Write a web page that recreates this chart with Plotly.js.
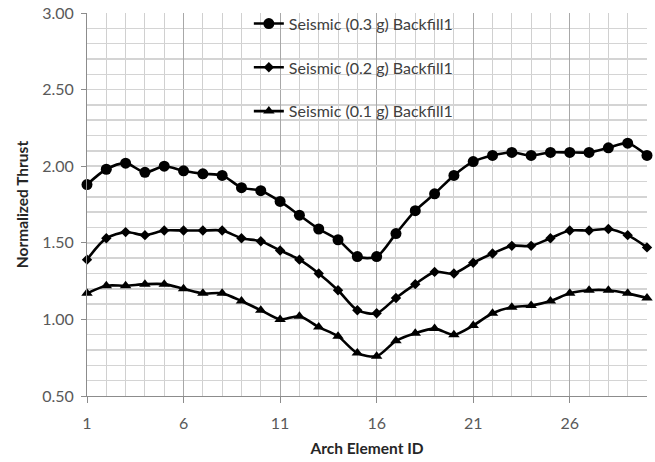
<!DOCTYPE html>
<html>
<head>
<meta charset="utf-8">
<script src="https://cdn.plot.ly/plotly-3.0.1.min.js"></script>
<style>
  html, body { margin: 0; padding: 0; background: #ffffff; }
  #chart { width: 655px; height: 462px; }
</style>
</head>
<body>
<div id="chart"></div>
<script>
// Arch element IDs along the arch
const elementIds = [1, 2, 3, 4, 5, 6, 7, 8, 9, 10, 11, 12, 13, 14, 15,
                    16, 17, 18, 19, 20, 21, 22, 23, 24, 25, 26, 27, 28, 29, 30];

// Normalized thrust per element for each seismic level
const thrust03g = [1.88, 1.98, 2.02, 1.96, 2.00, 1.97, 1.95, 1.94, 1.86, 1.84,
                   1.77, 1.68, 1.59, 1.52, 1.41, 1.41, 1.56, 1.71, 1.82, 1.94,
                   2.03, 2.07, 2.09, 2.07, 2.09, 2.09, 2.09, 2.12, 2.15, 2.07];
const thrust02g = [1.39, 1.53, 1.57, 1.55, 1.58, 1.58, 1.58, 1.58, 1.53, 1.51,
                   1.45, 1.39, 1.30, 1.19, 1.06, 1.04, 1.14, 1.23, 1.31, 1.30,
                   1.37, 1.43, 1.48, 1.48, 1.53, 1.58, 1.58, 1.59, 1.55, 1.47];
const thrust01g = [1.17, 1.22, 1.22, 1.23, 1.23, 1.20, 1.17, 1.17, 1.12, 1.06,
                   1.00, 1.02, 0.95, 0.89, 0.78, 0.76, 0.86, 0.91, 0.94, 0.90,
                   0.96, 1.04, 1.08, 1.09, 1.12, 1.17, 1.19, 1.19, 1.17, 1.14];

const seriesNames = ['Seismic (0.3 g) Backfill1',
                     'Seismic (0.2 g) Backfill1',
                     'Seismic (0.1 g) Backfill1'];

const xTickVals = [1, 6, 11, 16, 21, 26];
const yTickVals = [0.5, 1.0, 1.5, 2.0, 2.5, 3.0];
const yTickText = ['0.50', '1.00', '1.50', '2.00', '2.50', '3.00'];

const FONT = 'Lato, "Open Sans", sans-serif';

function series(y, name, symbol, size, group) {
  return {
    x: elementIds, y: y, name: name,
    type: 'scatter', mode: 'lines+markers',
    legendgroup: group,
    cliponaxis: false,
    line: { color: '#000000', width: 2.6, shape: 'spline', smoothing: 0.8 },
    marker: { symbol: symbol, size: size, color: '#000000' }
  };
}

const traces = [
  series(thrust03g, seriesNames[0], 'circle', 11, 'a'),
  series(thrust02g, seriesNames[1], 'diamond', 8, 'b'),
  series(thrust01g, seriesNames[2], 'triangle-up', 10, 'c')
];

const layout = {
  width: 655, height: 462,
  margin: { l: 87, r: 8, t: 12, b: 66 },
  paper_bgcolor: '#ffffff',
  plot_bgcolor: '#ffffff',
  font: { family: FONT, size: 15, color: '#595959' },
  showlegend: true,
  legend: {
    x: 0.289, y: 1.014, xanchor: 'left', yanchor: 'top',
    bgcolor: 'rgba(0,0,0,0)',
    traceorder: 'grouped',
    tracegroupgap: 20,
    font: { family: FONT, size: 16, color: '#404040' }
  },
  xaxis: {
    range: [1, 30],
    tickmode: 'array', tickvals: xTickVals,
    ticks: 'outside', ticklen: 6, tickcolor: '#8c8c8c',
    ticklabelstandoff: 7,
    showgrid: true, gridcolor: '#a8a8a8', gridwidth: 1,
    minor: { dtick: 1, tick0: 1, showgrid: true, gridcolor: '#d0d0d0', gridwidth: 1 },
    showline: true, linecolor: '#8c8c8c', linewidth: 1,
    zeroline: false,
    tickfont: { family: FONT, size: 16, color: '#595959' },
    title: { text: '<b>Arch Element ID</b>', standoff: 11,
             font: { family: FONT, size: 15.5, color: '#262626' } }
  },
  yaxis: {
    range: [0.5, 3.0],
    tickmode: 'array', tickvals: yTickVals, ticktext: yTickText,
    ticks: 'outside', ticklen: 5, tickcolor: '#8c8c8c',
    ticklabelstandoff: 4,
    showgrid: true, gridcolor: '#d4d4d4', gridwidth: 1.5,
    minor: { dtick: 0.1, tick0: 0.5, showgrid: true, gridcolor: '#d4d4d4', gridwidth: 1.5 },
    showline: true, linecolor: '#8c8c8c', linewidth: 1,
    zeroline: false,
    tickfont: { family: FONT, size: 16, color: '#595959' },
    title: { text: '<b>Normalized Thrust</b>', standoff: 9,
             font: { family: FONT, size: 15.5, color: '#262626' } }
  }
};

Plotly.newPlot('chart', traces, layout, { staticPlot: true, displayModeBar: false });
</script>
</body>
</html>
